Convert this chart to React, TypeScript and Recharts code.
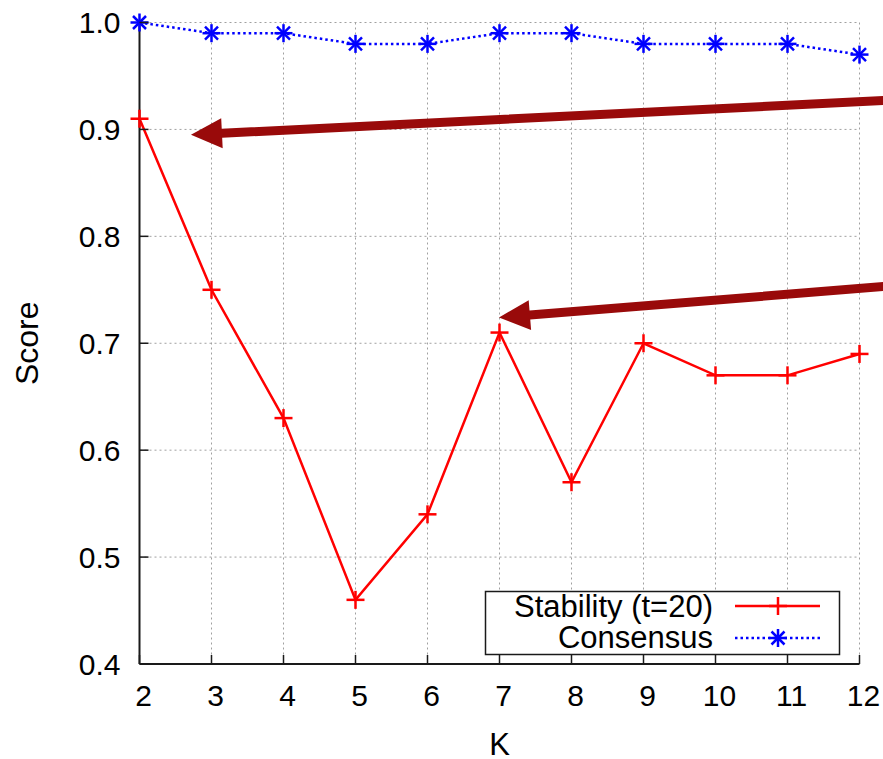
import React from 'react';
import { LineChart, Line, XAxis, YAxis, CartesianGrid, ReferenceLine, Legend } from 'recharts';

const kValues = [2, 3, 4, 5, 6, 7, 8, 9, 10, 11, 12];
const stability = [0.91, 0.75, 0.63, 0.46, 0.54, 0.71, 0.57, 0.70, 0.67, 0.67, 0.69];
const consensus = [1.0, 0.99, 0.99, 0.98, 0.98, 0.99, 0.99, 0.98, 0.98, 0.98, 0.97];
const yTicks = [0.4, 0.5, 0.6, 0.7, 0.8, 0.9, 1.0];
const yTickLabels = ['0.4', '0.5', '0.6', '0.7', '0.8', '0.9', '1.0'];
const arrow1 = [{ x: 12.5, y: 0.9276 }, { x: 2.715, y: 0.895 }];
const arrow2 = [{ x: 12.5, y: 0.754 }, { x: 6.993, y: 0.724 }];

const data = kValues.map((k, i) => ({ k, stability: stability[i], consensus: consensus[i] }));

const FONT = '"Liberation Sans", Arial, Helvetica, sans-serif';
const RED = '#ff0000';
const BLUE = '#0000ff';
const ARROW = '#990a0a';
const FRAME = '#1a1a1a';
const X_MARGIN = 21;
const Y_MARGIN = 19;
const TICK_LEN = 9;

const PlusMark = ({ cx, cy }: any) => {
  if (cx == null || cy == null) return null;
  const s = 9;
  return (
    <g stroke={RED} strokeWidth={2.5}>
      <line x1={cx - s} y1={cy} x2={cx + s} y2={cy} />
      <line x1={cx} y1={cy - s} x2={cx} y2={cy + s} />
    </g>
  );
};

const StarMark = ({ cx, cy }: any) => {
  if (cx == null || cy == null) return null;
  const s = 9;
  const d = 6.5;
  return (
    <g stroke={BLUE} strokeWidth={2.5}>
      <line x1={cx - s} y1={cy} x2={cx + s} y2={cy} />
      <line x1={cx} y1={cy - s} x2={cx} y2={cy + s} />
      <line x1={cx - d} y1={cy - d} x2={cx + d} y2={cy + d} />
      <line x1={cx - d} y1={cy + d} x2={cx + d} y2={cy - d} />
    </g>
  );
};

const BottomTick = (p: any) => {
  const { x, y, payload } = p;
  return (
    <g>
      <line x1={x} y1={y - X_MARGIN} x2={x} y2={y - X_MARGIN - TICK_LEN} stroke={FRAME} strokeWidth={1.5} />
      <text x={x + 4} y={y} dy="0.71em" textAnchor="middle" fontSize={30} fontFamily={FONT} fill="#000">
        {payload.value}
      </text>
    </g>
  );
};

const TopTick = (p: any) => {
  const { x, y } = p;
  return <line x1={x} y1={y} x2={x} y2={y + TICK_LEN} stroke={FRAME} strokeWidth={1.5} />;
};

const LeftTick = (p: any) => {
  const { x, y, payload } = p;
  const label = yTickLabels[yTicks.indexOf(payload.value)] ?? String(payload.value);
  return (
    <g>
      <line x1={x + Y_MARGIN} y1={y} x2={x + Y_MARGIN + TICK_LEN} y2={y} stroke={FRAME} strokeWidth={1.5} />
      <text x={x} y={y} dy="0.36em" textAnchor="end" fontSize={30} fontFamily={FONT} fill="#000">
        {label}
      </text>
    </g>
  );
};

const RightTick = (p: any) => {
  const { x, y } = p;
  return <line x1={x} y1={y} x2={x - TICK_LEN} y2={y} stroke={FRAME} strokeWidth={1.5} />;
};

const ArrowShape = (p: any) => {
  const { x1, y1, x2, y2 } = p;
  if ([x1, y1, x2, y2].some((v) => v == null || isNaN(v))) return null;
  const dx = x2 - x1;
  const dy = y2 - y1;
  const L = Math.hypot(dx, dy);
  const ux = dx / L;
  const uy = dy / L;
  const nx = -uy;
  const ny = ux;
  const head = 31;
  const hw = 15;
  const sw = 4.5;
  const bx = x2 - ux * head;
  const by = y2 - uy * head;
  const pts = [
    [x1 + nx * sw, y1 + ny * sw],
    [bx + nx * sw, by + ny * sw],
    [bx + nx * hw, by + ny * hw],
    [x2, y2],
    [bx - nx * hw, by - ny * hw],
    [bx - nx * sw, by - ny * sw],
    [x1 - nx * sw, y1 - ny * sw],
  ]
    .map((q) => q.join(','))
    .join(' ');
  return <polygon points={pts} fill={ARROW} stroke="none" />;
};

const XLabel = (p: any) => {
  const vb = p.viewBox || {};
  return (
    <text x={vb.x + vb.width / 2} y={vb.y + vb.height - 4} textAnchor="middle" fontSize={31} fontFamily={FONT} fill="#000">
      K
    </text>
  );
};

const YLabel = (p: any) => {
  const vb = p.viewBox || {};
  const cx = 26;
  const cy = vb.y + vb.height / 2;
  return (
    <text
      x={cx}
      y={cy}
      dy="0.36em"
      textAnchor="middle"
      transform={`rotate(-90, ${cx}, ${cy})`}
      fontSize={32}
      fontFamily={FONT}
      fill="#000"
    >
      Score
    </text>
  );
};

const LegendBox = () => (
  <svg width={356} height={65} style={{ display: 'block', overflow: 'visible' }}>
    <rect x={0.5} y={0.5} width={354} height={63} fill="#fff" stroke={FRAME} strokeWidth={1.5} />
    <text x={228} y={26} textAnchor="end" fontSize={31} fontFamily={FONT} fill="#000">
      Stability (t=20)
    </text>
    <text x={228} y={57} textAnchor="end" fontSize={31} fontFamily={FONT} fill="#000">
      Consensus
    </text>
    <line x1={250} y1={15} x2={335} y2={15} stroke={RED} strokeWidth={2.5} />
    <PlusMark cx={293} cy={15} />
    <line x1={250} y1={47} x2={335} y2={47} stroke={BLUE} strokeWidth={2.5} strokeDasharray="2.5 3" />
    <StarMark cx={293} cy={47} />
  </svg>
);

export default function App() {
  return (
    <>
      <style>{`html, body { margin: 0; padding: 0; overflow: hidden; background: #fff; }`}</style>
      <div style={{ width: 883, height: 759, background: '#fff', overflow: 'hidden', position: 'relative' }}>
        <LineChart width={883} height={759} data={data} margin={{ top: 22.5, right: 23.5, bottom: 0, left: 0 }}>
          <CartesianGrid stroke="#a0a0a0" strokeWidth={1} strokeDasharray="2 3" />
          <XAxis
            dataKey="k"
            type="number"
            domain={[2, 12]}
            ticks={kValues}
            height={95}
            tickSize={0}
            tickMargin={X_MARGIN}
            tickLine={false}
            axisLine={{ stroke: FRAME, strokeWidth: 2 }}
            tick={(p: any) => <BottomTick {...p} />}
            interval={0}
            label={(p: any) => <XLabel {...p} />}
          />
          <XAxis
            xAxisId="top"
            orientation="top"
            dataKey="k"
            type="number"
            domain={[2, 12]}
            ticks={kValues}
            height={0}
            tickSize={0}
            tickMargin={0}
            tickLine={false}
            axisLine={{ stroke: FRAME, strokeWidth: 2 }}
            tick={(p: any) => <TopTick {...p} />}
            interval={0}
          />
          <YAxis
            type="number"
            domain={[0.4, 1.0]}
            ticks={yTicks}
            width={139.5}
            tickSize={0}
            tickMargin={Y_MARGIN}
            tickLine={false}
            axisLine={{ stroke: FRAME, strokeWidth: 2 }}
            tick={(p: any) => <LeftTick {...p} />}
            interval={0}
            label={(p: any) => <YLabel {...p} />}
          />
          <YAxis
            yAxisId="right"
            orientation="right"
            type="number"
            domain={[0.4, 1.0]}
            ticks={yTicks}
            width={0}
            tickSize={0}
            tickMargin={0}
            tickLine={false}
            axisLine={{ stroke: FRAME, strokeWidth: 2 }}
            tick={(p: any) => <RightTick {...p} />}
            interval={0}
          />
          <Line
            dataKey="consensus"
            stroke={BLUE}
            strokeWidth={2.5}
            strokeDasharray="2.5 3"
            dot={(p: any) => <StarMark key={`s${p.index}`} cx={p.cx} cy={p.cy} />}
            activeDot={false}
            isAnimationActive={false}
          />
          <Line
            dataKey="stability"
            stroke={RED}
            strokeWidth={2.5}
            dot={(p: any) => <PlusMark key={`p${p.index}`} cx={p.cx} cy={p.cy} />}
            activeDot={false}
            isAnimationActive={false}
          />
          <ReferenceLine segment={arrow1} ifOverflow="visible" shape={(p: any) => <ArrowShape {...p} />} />
          <ReferenceLine segment={arrow2} ifOverflow="visible" shape={(p: any) => <ArrowShape {...p} />} />
          <Legend
            layout="vertical"
            align="center"
            verticalAlign="middle"
            wrapperStyle={{ left: 485, top: 591, width: 356, height: 65 }}
            content={() => <LegendBox />}
          />
        </LineChart>
      </div>
    </>
  );
}
